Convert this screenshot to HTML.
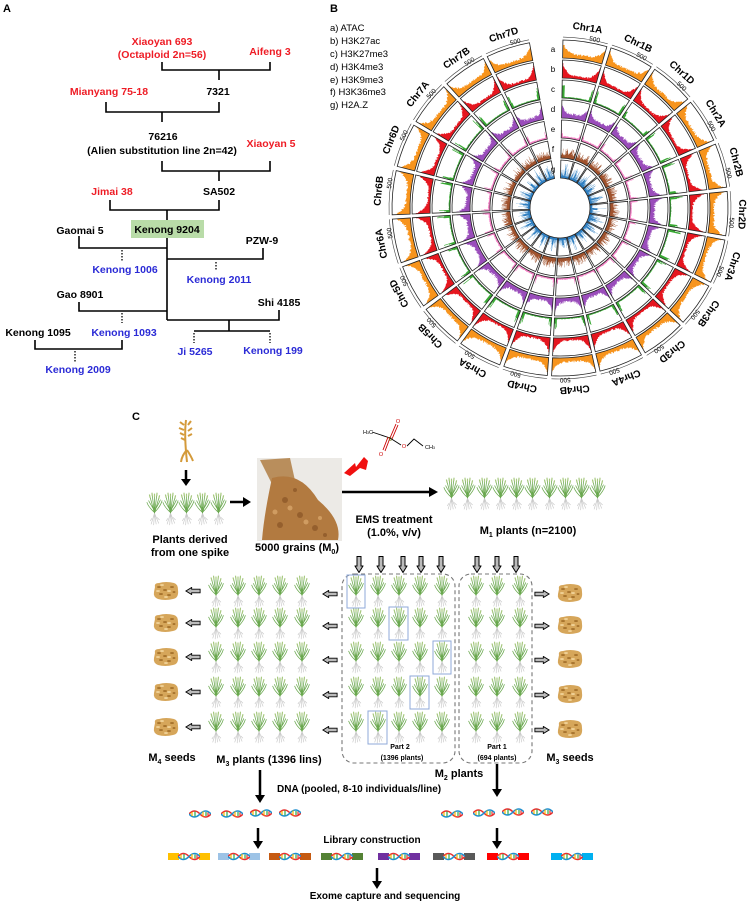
<!DOCTYPE html>
<html><head><meta charset="utf-8"><style>
body{margin:0;background:#fff}
svg{display:block}
text{font-family:"Liberation Sans",Arial,sans-serif}
.b{font-weight:bold}
</style></head><body>
<svg id="s" width="747" height="903" viewBox="0 0 747 903" xmlns="http://www.w3.org/2000/svg">
<defs>
<symbol id="pl" viewBox="0 0 20 40">
<g stroke="#c9c9c9" stroke-width="0.8" fill="none"><path d="M10 25 L6 38 M10 25 L9 39 M10 25 L12 38 M10 25 L15 37 M7 31 L5 34 M13 30 L16 33"/></g>
<g stroke="#6aa84f" stroke-width="0.9" fill="none"><path d="M10 25 L4 3 M10 25 L7 1 M10 25 L10 2 M10 25 L13 1 M10 25 L16 4 M10 24 Q3 18 1 12 M10 24 Q17 17 19 10 M10 22 Q5 14 3 10 M10 22 Q15 14 17 9"/></g>
<g stroke="#a8c97f" stroke-width="1.4"><path d="M4 3 L5 7 M7 1 L7.5 5 M10 2 L10 6 M13 1 L12.6 5 M16 4 L15 8"/></g>
</symbol>
<symbol id="sd" viewBox="0 0 26 20">
<path d="M2 6 Q1 2 6 2 Q13 0 21 2 Q25 3 25 9 Q26 17 20 18 Q12 20 5 18 Q0 16 1 11 Z" fill="#d6a65a"/>
<g fill="#a8742e"><ellipse cx="6" cy="6" rx="2" ry="1"/><ellipse cx="12" cy="9" rx="2" ry="1"/><ellipse cx="19" cy="6" rx="2" ry="1"/><ellipse cx="8" cy="13" rx="2" ry="1"/><ellipse cx="16" cy="14" rx="2" ry="1"/><ellipse cx="21" cy="11" rx="1.5" ry="1"/></g>
<g fill="#efd095"><ellipse cx="9" cy="4" rx="2" ry="1"/><ellipse cx="16" cy="10" rx="2" ry="1"/><ellipse cx="5" cy="10" rx="2" ry="1"/><ellipse cx="13" cy="16" rx="2" ry="1"/></g>
</symbol>
<symbol id="ha" viewBox="0 0 17 9"><path d="M0.5 2.5 H10 V0.5 L16.5 4.5 L10 8.5 V6.5 H0.5 Z" fill="#bbb" stroke="#000" stroke-width="1"/></symbol>
<symbol id="dna" viewBox="0 0 22 8">
<path d="M0 4 Q5.5 -2 11 4 T22 4" stroke="#e8312f" stroke-width="1.6" fill="none"/>
<path d="M0 4 Q5.5 10 11 4 T22 4" stroke="#1f8fcf" stroke-width="1.6" fill="none"/>
<g stroke-width="1.2"><path d="M3 2 V6" stroke="#f5b700"/><path d="M6 1.5 V6.5" stroke="#2aa84a"/><path d="M14 1.5 V6.5" stroke="#f5b700"/><path d="M17 2 V6" stroke="#2aa84a"/><path d="M19 2.5 V5.5" stroke="#e8312f"/></g>
</symbol>
</defs>

<!-- Panel A -->
<text x="3" y="12" class="b" font-size="11">A</text>
<g class="b" font-size="10.5" text-anchor="middle">
<text x="162" y="45" fill="#ee1c25">Xiaoyan 693</text>
<text x="162" y="58" fill="#ee1c25">(Octaploid 2n=56)</text>
<text x="270" y="55" fill="#ee1c25">Aifeng 3</text>
<text x="218" y="95">7321</text>
<text x="109" y="95" fill="#ee1c25">Mianyang 75-18</text>
<text x="163" y="140">76216</text>
<text x="162" y="154">(Alien substitution line 2n=42)</text>
<text x="271" y="147" fill="#ee1c25">Xiaoyan 5</text>
<text x="219" y="195">SA502</text>
<text x="112" y="195" fill="#ee1c25">Jimai 38</text>
<text x="80" y="234">Gaomai 5</text>
<text x="262" y="244">PZW-9</text>
<text x="125" y="273" fill="#2b2bd6">Kenong 1006</text>
<text x="219" y="283" fill="#2b2bd6">Kenong 2011</text>
<text x="80" y="298">Gao 8901</text>
<text x="279" y="306">Shi 4185</text>
<text x="124" y="336" fill="#2b2bd6">Kenong 1093</text>
<text x="38" y="336">Kenong 1095</text>
<text x="195" y="355" fill="#2b2bd6">Ji 5265</text>
<text x="273" y="354" fill="#2b2bd6">Kenong 199</text>
<text x="78" y="373" fill="#2b2bd6">Kenong 2009</text>
</g>
<rect x="131" y="220" width="73" height="18" fill="#b9dca8"/>
<text x="167" y="233" class="b" font-size="10.5" text-anchor="middle">Kenong 9204</text>
<g stroke="#000" stroke-width="1.6" fill="none">
<path d="M162 62 V70 H270 V62 M219 70 V80"/>
<path d="M106 102 V112 H219 V102 M162 112 V122"/>
<path d="M162 161 V171 H270 V161 M219 171 V181"/>
<path d="M110 200 V210 H219 V200 M167 210 V220 M167 238 V320"/>
<path d="M79 236 V248 H167 M167 259 H263 V248"/>
<path d="M79 302 V311 H167 M167 320 H279 V310 M229 320 V331 M194 331 H270"/>
<path d="M35 340 V349 H122 V340"/>
</g>
<g stroke="#000" stroke-width="1.3" stroke-dasharray="1.5,1.5" fill="none">
<path d="M122 250 V261 M216 262 V271 M122 313 V323 M194 333 V343 M270 333 V343 M75 351 V362"/>
</g>

<!-- Panel B -->
<text x="330" y="12" class="b" font-size="11">B</text>
<g font-size="9.5">
<text x="330" y="31">a) ATAC</text><text x="330" y="44">b) H3K27ac</text><text x="330" y="57">c) H3K27me3</text><text x="330" y="70">d) H3K4me3</text><text x="330" y="83">e) H3K9me3</text><text x="330" y="95">f) H3K36me3</text><text x="330" y="108">g) H2A.Z</text>
</g>
<g font-size="8" text-anchor="middle">
<text x="553" y="52">a</text><text x="553" y="72">b</text><text x="553" y="92">c</text><text x="553" y="112">d</text><text x="553" y="132">e</text><text x="553" y="152">f</text><text x="553" y="172">g</text>
</g>
<g id="circ"></g>
<g class="b" font-size="10" text-anchor="middle">
<text x="560" y="29" transform="rotate(8.7 560 208)">Chr1A</text>
<text x="560" y="29" transform="rotate(25.4 560 208)">Chr1B</text>
<text x="560" y="29" transform="rotate(42.0 560 208)">Chr1D</text>
<text x="560" y="29" transform="rotate(58.7 560 208)">Chr2A</text>
<text x="560" y="29" transform="rotate(75.4 560 208)">Chr2B</text>
<text x="560" y="29" transform="rotate(92.0 560 208)">Chr2D</text>
<text x="560" y="29" transform="rotate(108.7 560 208)">Chr3A</text>
<text x="560" y="29" transform="rotate(125.4 560 208)">Chr3B</text>
<text x="560" y="29" transform="rotate(142.0 560 208)">Chr3D</text>
<text x="560" y="29" transform="rotate(158.7 560 208)">Chr4A</text>
<text x="560" y="29" transform="rotate(175.4 560 208)">Chr4B</text>
<text x="560" y="29" transform="rotate(192.0 560 208)">Chr4D</text>
<text x="560" y="29" transform="rotate(208.7 560 208)">Chr5A</text>
<text x="560" y="29" transform="rotate(225.4 560 208)">Chr5B</text>
<text x="560" y="29" transform="rotate(242.0 560 208)">Chr5D</text>
<text x="560" y="29" transform="rotate(258.7 560 208)">Chr6A</text>
<text x="560" y="29" transform="rotate(275.4 560 208)">Chr6B</text>
<text x="560" y="29" transform="rotate(292.0 560 208)">Chr6D</text>
<text x="560" y="29" transform="rotate(308.7 560 208)">Chr7A</text>
<text x="560" y="29" transform="rotate(325.4 560 208)">Chr7B</text>
<text x="560" y="29" transform="rotate(342.0 560 208)">Chr7D</text>
</g>

<!-- Panel C -->
<text x="132" y="420" class="b" font-size="11">C</text>
<g stroke="#d49a3a" stroke-width="2" fill="none"><path d="M186 420 Q184 435 187 462 M184 425 L180 422 M184 430 L179 428 M184 435 L180 433 M185 440 L181 438 M188 425 L191 421 M188 431 L192 428 M188 436 L192 434"/><path d="M187 450 Q182 455 181 462 M187 450 Q191 456 193 461"/></g>
<path d="M186 470 V480" stroke="#000" stroke-width="2.5"/><path d="M181 479 L186 486 L191 479Z"/>
<g id="row0"></g>
<g class="b" font-size="11" text-anchor="middle"><text x="190" y="543">Plants derived</text><text x="190" y="556">from one spike</text></g>
<path d="M230 502 H244" stroke="#000" stroke-width="2.5"/><path d="M243 497 L251 502 L243 507Z"/>
<rect x="257" y="458" width="85" height="83" fill="#eceae6"/>
<path d="M260 460 L290 458 L296 485 L274 488 Z" fill="#b98e5c"/>
<path d="M272 478 Q300 470 318 500 Q342 520 338 540 L262 540 Q264 515 272 478Z" fill="#b27a40"/>
<g fill="#8a5526" opacity="0.7"><circle cx="285" cy="500" r="3"/><circle cx="300" cy="515" r="3"/><circle cx="315" cy="528" r="3"/><circle cx="280" cy="525" r="3"/><circle cx="295" cy="490" r="2"/><circle cx="325" cy="535" r="2"/></g>
<g fill="#d8a56a" opacity="0.8"><circle cx="290" cy="508" r="2.5"/><circle cx="306" cy="522" r="2.5"/><circle cx="275" cy="512" r="2.5"/><circle cx="320" cy="518" r="2"/></g>
<text x="297" y="551" class="b" font-size="11" text-anchor="middle">5000 grains (M<tspan font-size="7" dy="3">0</tspan><tspan dy="-3">)</tspan></text>
<path d="M344 473 L355 463 L356 467 L364 457 L368 461 L366 470 L360 468 L350 476 Z" fill="#f01010"/>
<g stroke-width="0.9" fill="none"><path d="M372 432 L390 438" stroke="#000"/><path d="M390 438 L396 424 M392 439 L398 425" stroke="#c00"/><path d="M390 438 L385 451 M388 437 L383 450" stroke="#c00"/><path d="M390 438 L401 445" stroke="#000"/><path d="M407 446 L414 439 L423 446" stroke="#000"/></g>
<g font-size="5.5" text-anchor="middle"><text x="368" y="434">H<tspan font-size="3.5">3</tspan>C</text><text x="390" y="441" fill="#6b6b00">S</text><text x="398" y="423" fill="#c00">O</text><text x="381" y="456" fill="#c00">O</text><text x="404" y="448" fill="#c00">O</text><text x="430" y="449">CH<tspan font-size="3.5">3</tspan></text></g>
<path d="M342 492 H430" stroke="#000" stroke-width="2.5"/><path d="M429 487 L438 492 L429 497Z"/>
<g class="b" font-size="11" text-anchor="middle"><text x="394" y="523">EMS treatment</text><text x="394" y="536">(1.0%, v/v)</text>
<text x="528" y="534">M<tspan font-size="7" dy="3">1</tspan><tspan dy="-3"> plants (n=2100)</tspan></text></g>
<g id="grid"></g>
<g fill="none" stroke="#777" stroke-width="1.1" stroke-dasharray="4,3">
<rect x="342" y="574" width="113" height="189" rx="12"/><rect x="459" y="574" width="73" height="189" rx="12"/></g>
<g fill="none" stroke="#8fa9d8" stroke-width="1">
<rect x="347" y="575" width="18" height="33"/><rect x="389" y="607" width="19" height="33"/><rect x="433" y="641" width="18" height="33"/><rect x="410" y="676" width="19" height="33"/><rect x="368" y="711" width="19" height="33"/></g>
<g class="b" font-size="7" text-anchor="middle"><text x="400" y="749">Part 2</text><text x="402" y="760">(1396 plants)</text><text x="497" y="749">Part 1</text><text x="497" y="760">(694 plants)</text></g>
<g class="b" font-size="11" text-anchor="middle">
<text x="172" y="761">M<tspan font-size="7" dy="3">4</tspan><tspan dy="-3"> seeds</tspan></text>
<text x="269" y="763">M<tspan font-size="7" dy="3">3</tspan><tspan dy="-3"> plants (1396 lins)</tspan></text>
<text x="570" y="761">M<tspan font-size="7" dy="3">3</tspan><tspan dy="-3"> seeds</tspan></text>
<text x="459" y="777">M<tspan font-size="7" dy="3">2</tspan><tspan dy="-3"> plants</tspan></text>
<text x="372" y="843" font-size="10">Library construction</text>
<text x="385" y="899" font-size="10">Exome capture and sequencing</text></g>
<text x="277" y="792" class="b" font-size="10">DNA  (pooled, 8-10 individuals/line)</text>
<g stroke="#000" stroke-width="2.5"><path d="M260 770 V796 M497 764 V790 M258 828 V842 M497 828 V842 M377 868 V882"/></g>
<g><path d="M255 795 L260 803 L265 795Z M492 789 L497 797 L502 789Z M253 841 L258 849 L263 841Z M492 841 L497 849 L502 841Z M372 881 L377 889 L382 881Z"/></g>
<g>
<use href="#dna" x="189" y="810" width="22" height="8"/><use href="#dna" x="221" y="810" width="22" height="8"/><use href="#dna" x="250" y="809" width="22" height="8"/><use href="#dna" x="279" y="809" width="22" height="8"/>
<use href="#dna" x="441" y="810" width="22" height="8"/><use href="#dna" x="473" y="809" width="22" height="8"/><use href="#dna" x="502" y="808" width="22" height="8"/><use href="#dna" x="531" y="808" width="22" height="8"/>
</g>
<g id="bars"></g>
</svg>
<script>
var S="http://www.w3.org/2000/svg";
function el(p,t,a){var e=document.createElementNS(S,t);for(var k in a)e.setAttribute(k,a[k]);p.appendChild(e);return e;}
var seed=7;function rnd(){seed=(seed*16807)%2147483647;return seed/2147483647;}
var cx=560,cy=208;
function P(r,a){a=a*Math.PI/180;return [(cx+r*Math.sin(a)).toFixed(2),(cy-r*Math.cos(a)).toFixed(2)];}
var circ=document.getElementById('circ');
var cols=['#f7941d','#e5161f','#3aa935','#9a4dbb','#f27fc4','#a0522d','#2f7fc1'];
var outs=[168,148,128,108,88,68,48];
for(var i=0;i<21;i++){
 var a0=1+i*16.667,a1=a0+15.2;
 for(var t=0;t<7;t++){
  var ro=outs[t],ri=ro-18,T=ro-ri-1.5;
  var n=48,d='M'+P(ri,a0).join(',');
  for(var k=0;k<n;k++){
   var f=k/(n-1),e=Math.abs(f-0.5)*2,u=Math.pow(e,4),h,r=rnd();
   if(t==0)h=0.15+0.6*u+0.12*r;
   else if(t==1)h=0.08+0.7*u+0.1*r;
   else if(t==2)h=(e>0.85)?0.2+0.6*r:0.03+0.03*r;
   else if(t==3)h=0.15+0.5*u+0.15*r;
   else if(t==4)h=(e>0.85)?0.15+0.4*r:0.05+0.05*r;
   else if(t==5)h=0.15+0.45*Math.pow(r,2)*(1-0.4*u);
   else h=0.1+0.6*Math.pow(r,3)*(1-0.5*u)+(e<0.15?0.3:0);
   h=Math.min(h,1);
   var aa=a0+(a1-a0)*(k/n),ab=a0+(a1-a0)*((k+1)/n);
   d+=' L'+P(ri+0.5+h*T,aa).join(',')+' L'+P(ri+0.5+h*T,ab).join(',');
  }
  d+=' L'+P(ri,a1).join(',')+' A'+ri+','+ri+' 0 0 0 '+P(ri,a0).join(',')+'Z';
  el(circ,'path',{d:d,fill:cols[t]});
  var b='M'+P(ri,a0)+' L'+P(ro,a0)+' A'+ro+','+ro+' 0 0 1 '+P(ro,a1)+' L'+P(ri,a1)+' A'+ri+','+ri+' 0 0 0 '+P(ri,a0)+'Z';
  el(circ,'path',{d:b,fill:'none',stroke:'#222','stroke-width':'0.8'});
 }
 var am=(a0+a1)/2;
 var tx=el(circ,'text',{x:cx,y:cy-170,'font-size':'6.5','text-anchor':'middle',transform:'rotate('+(am+3)+' '+cx+' '+cy+')'});tx.textContent='500';
 el(circ,'path',{d:'M'+P(171,a0)+' A171,171 0 0 1 '+P(171,a1),fill:'none',stroke:'#444','stroke-width':'0.6'});
}
function plant(g,x,y,w,h){el(g,'use',{href:'#pl',x:x,y:y,width:w||18,height:h||34});}
var r0=document.getElementById('row0');
[146,162,178,194,210].forEach(function(x){plant(r0,x,490,17,38);});
[443,459,476,492,508,524,541,557,573,589].forEach(function(x){plant(r0,x,466,17,56);});
var g=document.getElementById('grid');
[359,381,403,421,441,477,497,516].forEach(function(x){el(g,'use',{href:'#ha',x:0,y:0,width:17,height:9,transform:'translate('+(x+4.5)+',556) rotate(90)'});});
var rows=[575,607,641,676,711];
rows.forEach(function(y){
 [207,229,250,271,293,347,369,390,411,433,467,488,511].forEach(function(x){plant(g,x,y,18,33);});
 el(g,'use',{href:'#sd',x:153,y:y+6,width:26,height:20});
 el(g,'use',{href:'#sd',x:557,y:y+8,width:26,height:20});
 el(g,'use',{href:'#ha',x:0,y:0,width:16,height:8,transform:'translate('+201+','+(y+20)+') rotate(180)'});
 el(g,'use',{href:'#ha',x:0,y:0,width:16,height:8,transform:'translate('+338+','+(y+23)+') rotate(180)'});
 el(g,'use',{href:'#ha',x:534,y:y+15,width:16,height:8});
});
var bars=document.getElementById('bars');
[[168,'#ffc000'],[218,'#9dc3e6'],[269,'#c55a11'],[321,'#548235'],[378,'#7030a0'],[433,'#595959'],[487,'#ff0000'],[551,'#00b0f0']].forEach(function(b){
 el(bars,'rect',{x:b[0],y:853,width:42,height:7,fill:b[1]});
 el(bars,'rect',{x:b[0]+11,y:853,width:20,height:7,fill:'#fff'});
 el(bars,'use',{href:'#dna',x:b[0]+10,y:852.5,width:22,height:8});
});
</script>
</body></html>
